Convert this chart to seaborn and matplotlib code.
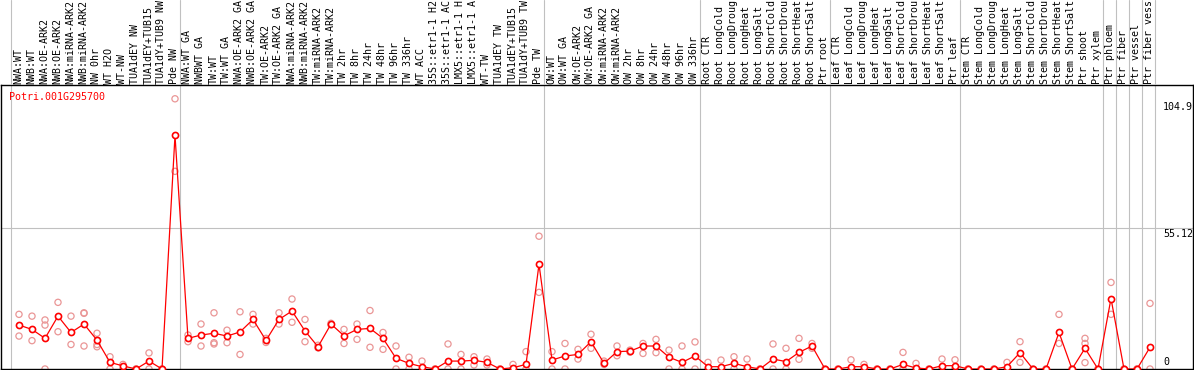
import numpy as np
import pandas as pd
import seaborn as sns
import matplotlib.pyplot as plt

# sample labels (as far as they are visible in the header)
labels = [
    "NWA:WT", "NWB:WT", "NWA:OE-ARK2", "NWB:OE-ARK2", "NWA:miRNA-ARK2", "NWB:miRNA-ARK2",
    "NW 0hr", "WT H2O", "WT-NW", "TUA1dEY NW", "TUA1dEY+TUB15", "TUA1dY+TUB9 NW", "Pde NW",
    "NWA:WT GA", "NWBWT GA", "TW:WT", "TW:WT GA", "NWA:OE-ARK2 GA", "NWB:OE-ARK2 GA",
    "TW:OE-ARK2", "TW:OE-ARK2 GA", "NWA:miRNA-ARK2", "NWB:miRNA-ARK2", "TW:miRNA-ARK2",
    "TW:miRNA-ARK2", "TW 2hr", "TW 8hr", "TW 24hr", "TW 48hr", "TW 96hr", "TW 336hr",
    "WT ACC", "35S::etr1-1 H2", "35S::etr1-1 AC", "LMX5::etr1-1 H", "LMX5::etr1-1 A",
    "WT-TW", "TUA1dEY TW", "TUA1dEY+TUB15", "TUA1dY+TUB9 TW", "Pde TW",
    "OW:WT", "OW:WT GA", "OW:OE-ARK2", "OW:OE-ARK2 GA", "OW:miRNA-ARK2", "OW:miRNA-ARK2",
    "OW 2hr", "OW 8hr", "OW 24hr", "OW 48hr", "OW 96hr", "OW 336hr",
    "Root CTR", "Root LongCold", "Root LongDroug", "Root LongHeat", "Root LongSalt",
    "Root ShortCold", "Root ShortDrou", "Root ShortHeat", "Root ShortSalt", "Ptr root",
    "Leaf CTR", "Leaf LongCold", "Leaf LongDroug", "Leaf LongHeat", "Leaf LongSalt",
    "Leaf ShortCold", "Leaf ShortDrou", "Leaf ShortHeat", "Leaf ShortSalt", "Ptr leaf",
    "Stem CTR", "Stem LongCold", "Stem LongDroug", "Stem LongHeat", "Stem LongSalt",
    "Stem ShortCold", "Stem ShortDrou", "Stem ShortHeat", "Stem ShortSalt",
    "Ptr shoot", "Ptr xylem", "Ptr phloem", "Ptr fiber", "Ptr vessel", "Ptr fiber vess",
]

# mean expression per sample
mean_expr = [
    17.2, 15.5, 12.0, 20.7, 14.3, 17.6, 11.3, 2.6, 1.2, 0.0, 3.1, 0.0, 91.5,
    12.0, 13.3, 14.0, 12.9, 14.5, 19.4, 11.2, 19.4, 22.7, 14.9, 8.7, 17.6, 13.0,
    15.5, 15.9, 12.0, 4.2, 2.2, 0.9, 0.0, 3.1, 3.1, 3.4, 2.6, 0.0, 0.5, 1.8, 41.0,
    3.5, 5.1, 5.7, 10.7, 2.2, 6.8, 7.0, 9.0, 9.0, 4.6, 2.6, 5.1,
    0.9, 0.9, 2.2, 0.9, 0.0, 3.9, 2.9, 6.5, 9.0, 0.0,
    0.0, 0.9, 0.9, 0.0, 0.0, 1.8, 0.4, 0.0, 1.3, 1.3,
    0.0, 0.0, 0.0, 0.9, 6.4, 0.0, 0.0, 14.3, 0.0, 8.1, 0.0, 27.6, 0.0, 0.0, 8.5,
]

# replicate values
rep_a = [
    21.4, 20.7, 19.2, 26.1, 20.7, 22.0, 14.0, 4.8, 1.8, 0.0, 6.3, 0.0, 105.8,
    10.7, 17.6, 22.0, 15.2, 22.4, 21.4, 12.0, 22.0, 27.4, 19.4, 9.3, 17.9, 15.5,
    17.6, 22.9, 14.3, 9.0, 4.6, 3.1, 0.0, 9.8, 5.7, 4.8, 3.9, 0.0, 1.8, 6.8, 52.0,
    6.8, 10.0, 7.7, 13.6, 3.1, 9.0, 7.4, 10.0, 11.6, 7.4, 9.0, 10.6,
    2.6, 3.5, 4.8, 3.9, 0.0, 9.8, 8.1, 12.0, 10.0, 0.0,
    0.0, 3.6, 1.8, 0.0, 0.0, 6.5, 2.2, 0.0, 3.9, 3.6,
    0.0, 0.0, 0.0, 2.6, 10.7, 0.0, 0.0, 21.4, 0.0, 12.0, 0.0, 33.9, 0.0, 0.0, 25.7,
]
rep_b = [
    12.9, 11.1, 17.2, 14.6, 9.6, 21.8, 9.6, 0.0, 0.0, 0.0, 0.0, 0.0, 77.4,
    13.3, 9.0, 10.3, 10.3, 5.7, 17.6, 10.4, 17.6, 18.3, 10.7, 8.3, 17.3, 10.0,
    11.6, 8.5, 7.7, 0.0, 0.0, 0.0, 0.0, 0.0, 0.0, 1.6, 1.6, 0.0, 0.0, 0.0, 30.0,
    0.0, 0.0, 3.9, 8.1, 1.8, 5.2, 6.6, 6.1, 6.4, 0.0, 0.0, 0.0,
    0.0, 0.0, 0.0, 0.0, 0.0, 0.0, 0.0, 3.8, 8.1, 0.0,
    0.0, 0.0, 0.0, 0.0, 0.0, 0.0, 0.0, 0.0, 0.0, 0.0,
    0.0, 0.0, 0.0, 0.0, 2.6, 0.0, 0.0, 10.0, 0.0, 10.0, 0.0, 21.4, 0.0, 0.0, 0.0,
]
rep_c = [np.nan] * len(labels)
for i, v in [(2, 0.0), (5, 9.0), (6, 8.7), (15, 9.8), (82, 2.5)]:
    rep_c[i] = v

# last column index of each sample group
group_ends = [12, 40, 52, 62, 72, 83, 84, 85, 86, 87]
y_ticks = [0, 55.12, 104.9]
gene = "Potri.001G295700"

n = len(labels)
x = np.arange(n)
df_mean = pd.DataFrame({"x": x, "y": mean_expr})
df_rep = pd.DataFrame({
    "x": np.concatenate([x, x, x]),
    "y": np.concatenate([rep_a, rep_b, rep_c]),
}).dropna()

sns.set_style("white")
plt.rcParams["font.family"] = ["DejaVu Sans Mono", "DejaVu Sans"]
FS = 7.2
GRID = "#c0c0c0"

W, H = 1194, 370
fig = plt.figure(figsize=(W / 100, H / 100), dpi=100)
ax = fig.add_axes([1 / W, 1 / H, 1192 / W, 284 / H])
top = fig.add_axes([1 / W, 285 / H, 1192 / W, 85 / H])

xmin, xmax = (1 - 19) / 13, (1193 - 19) / 13
bounds = [-0.65] + [e + 0.4 for e in group_ends]

for a in (ax, top):
    a.set_xlim(xmin, xmax)
    for b in bounds:
        a.axvline(b, color=GRID, lw=0.8, zorder=0)

ax.set_ylim(0, 111.2)
ax.axhline(y_ticks[1], color=GRID, lw=0.8, zorder=0)

sns.scatterplot(data=df_rep, x="x", y="y", ax=ax, marker="o", s=20,
                facecolors="none", edgecolor="#ea9696", linewidth=0.9, zorder=2)
sns.lineplot(data=df_mean, x="x", y="y", ax=ax, color="red", lw=0.9,
             marker="o", ms=4.4, mfc="white", mec="red", mew=1.2,
             estimator=None, sort=False, zorder=3)

ax.set_xticks([])
ax.set_yticks([])
ax.set_xlabel("")
ax.set_ylabel("")
for s in ax.spines.values():
    s.set_color("black")
    s.set_linewidth(1.0)

# right-side value labels
for v in y_ticks:
    va = "bottom" if v == 0 else "top"
    off = 1.2 if v == 0 else -0.3
    ax.annotate(f"{v:g}", (n, v), xytext=(0, off), textcoords="offset points",
                fontsize=FS, va=va, ha="left", color="black")

ax.text(8.5 / 1192, 1 - 12.5 / 284, gene, transform=ax.transAxes,
        fontsize=FS, color="red", va="center", ha="left")

# column labels
top.set_ylim(0, 85)
top.axis("off")
for i, lab in enumerate(labels):
    top.text(i - 0.05, 1.5, lab, rotation=90, ha="center", va="bottom",
             fontsize=FS, color="black")

fig.savefig("out.png", dpi=100)
